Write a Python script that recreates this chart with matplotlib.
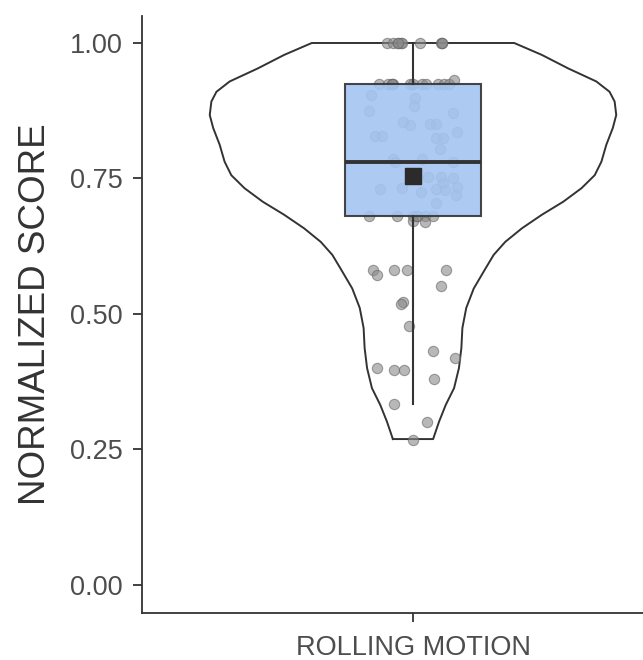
import numpy as np
import matplotlib
matplotlib.use("Agg")
import matplotlib.pyplot as plt

# ===== DATA =====
CATEGORY = "ROLLING MOTION"

scores = [
    1.000, 1.000, 1.000, 1.000, 1.000, 1.000, 1.000, 1.000, 1.000, 1.000,
    0.925, 0.925, 0.925, 0.925, 0.925, 0.925, 0.925, 0.925, 0.925, 0.925, 0.925, 0.925, 0.932,
    0.904, 0.898, 0.884, 0.875, 0.870, 0.854, 0.849, 0.851, 0.851, 0.835,
    0.828, 0.828, 0.824, 0.824, 0.804, 0.785, 0.785, 0.781, 0.780, 0.753, 0.753, 0.750,
    0.752, 0.752, 0.741, 0.735, 0.731, 0.733, 0.725, 0.730, 0.729, 0.720, 0.704,
    0.681, 0.681, 0.681, 0.681, 0.681, 0.681, 0.672, 0.680, 0.669,
    0.581, 0.581, 0.581, 0.581, 0.572, 0.552, 0.522, 0.518, 0.478,
    0.432, 0.418, 0.400, 0.397, 0.397, 0.380, 0.334, 0.300, 0.268,
]
# horizontal jitter of each point (category units), as seen in the picture
jitter = [
    -0.058, -0.044, -0.033, -0.027, -0.024, 0.015, 0.061, 0.064, -0.033, 0.064,
    -0.075, -0.055, -0.047, -0.044, -0.007, 0.000, 0.021, 0.028, 0.055, 0.068, 0.079, -0.047, 0.091,
    -0.094, 0.004, 0.003, -0.098, 0.089, -0.023, -0.007, 0.037, 0.052, 0.097,
    -0.084, -0.069, 0.050, 0.067, 0.060, -0.045, 0.020, -0.040, 0.088, 0.034, 0.063, 0.089,
    0.000, -0.005, 0.067, 0.097, -0.073, -0.025, 0.018, 0.052, 0.071, 0.095, 0.052,
    -0.097, -0.035, 0.000, 0.009, 0.026, 0.045, 0.000, 0.009, 0.026,
    -0.088, -0.041, -0.014, 0.072, -0.080, 0.063, -0.022, -0.027, -0.009,
    0.045, 0.094, -0.080, -0.042, -0.020, 0.046, -0.041, 0.030, 0.000,
]

# violin outline: score level and relative density (1 = widest)
violin_score = [0.269, 0.301, 0.332, 0.363, 0.400, 0.437, 0.474, 0.511, 0.547, 0.584,
                0.609, 0.633, 0.658, 0.683, 0.707, 0.732, 0.756, 0.781, 0.812, 0.843,
                0.867, 0.892, 0.910, 0.929, 0.953, 0.978, 1.000]
violin_dens = [0.099, 0.128, 0.161, 0.202, 0.226, 0.238, 0.243, 0.262, 0.299, 0.357,
               0.397, 0.454, 0.536, 0.634, 0.739, 0.829, 0.894, 0.927, 0.951, 0.983,
               1.000, 0.992, 0.967, 0.902, 0.764, 0.634, 0.498]

y_ticks = [0.00, 0.25, 0.50, 0.75, 1.00]
y_label = "NORMALIZED SCORE"

# ===== STATS =====
vals = np.array(scores)
q1, med, q3 = np.percentile(vals, [25, 50, 75])
iqr = q3 - q1
lo_w = vals[vals >= q1 - 1.5 * iqr].min()
hi_w = vals[vals <= q3 + 1.5 * iqr].max()
mean = vals.mean()

vy = np.array(violin_score)
vw = np.array(violin_dens) * 0.45   # violin width 0.9 of a category

# ===== PLOT =====
plt.rcParams["font.family"] = ["Liberation Sans", "DejaVu Sans"]
DARK = "#333333"

fig = plt.figure(figsize=(6.43, 6.6), dpi=100)
ax = fig.add_axes([142 / 643, 1 - 613 / 660, 542 / 643, (613 - 15.9) / 660])

xc = 1.0
ax.fill_betweenx(vy, xc - vw, xc + vw, facecolor="white", edgecolor="none", zorder=1)
ax.plot(np.r_[xc - vw, (xc + vw)[::-1], xc - vw[0]],
        np.r_[vy, vy[::-1], vy[0]], color=DARK, lw=1.4, solid_joinstyle="round", zorder=2)

ax.scatter(xc + np.array(jitter), vals, s=55, facecolor="#8a8a8a", edgecolor="#666666",
           linewidths=0.8, alpha=0.6, zorder=3)

stats = [dict(med=med, q1=q1, q3=q3, whislo=lo_w, whishi=hi_w, fliers=[], label=CATEGORY)]
ax.bxp(stats, positions=[xc], widths=0.3, showcaps=False, showfliers=False, patch_artist=True,
       boxprops=dict(facecolor="#a4c5f1", alpha=0.9, edgecolor=DARK, linewidth=1.5),
       whiskerprops=dict(color=DARK, linewidth=1.5),
       medianprops=dict(color=DARK, linewidth=2.8, solid_capstyle="butt"),
       zorder=4)
for p in ax.patches:
    p.set_edgecolor(DARK)
ax.plot([xc], [mean], marker="s", markersize=12, color="#2b2b2b", ls="none", zorder=6)

ax.set_xlim(0.4, 1.6)
ax.set_ylim(-0.052, 1.05)
ax.set_xticks([xc])
ax.set_xticklabels([CATEGORY])
ax.set_yticks(y_ticks)
ax.set_yticklabels([f"{t:.2f}" for t in y_ticks])
ax.set_ylabel(y_label, fontsize=26.5, color="#333333", labelpad=12)

for s in ("top", "right"):
    ax.spines[s].set_visible(False)
for s in ("left", "bottom"):
    ax.spines[s].set_color(DARK)
    ax.spines[s].set_linewidth(1.3)
ax.tick_params(axis="both", length=6.5, width=1.3, color=DARK, labelsize=19.5,
               labelcolor="#4d4d4d")
ax.tick_params(axis="x", pad=9)
ax.tick_params(axis="y", pad=7.5)

fig.savefig("out.png", dpi=100)
